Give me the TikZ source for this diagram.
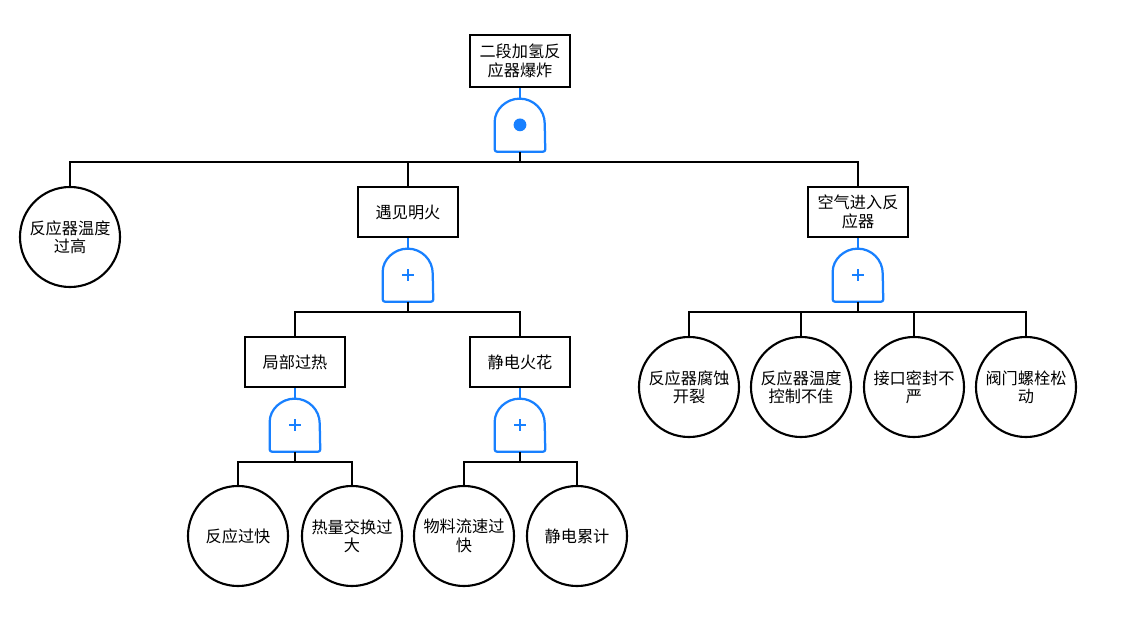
\documentclass[tikz,border=0pt]{standalone}
\usepackage{fontspec}
\newfontfamily\cjk{Noto Sans CJK SC}
\usepackage{tikz}
\usetikzlibrary{
  calc,
  positioning
}
\definecolor{gateblue}{RGB}{24,128,255}
\newcommand\gatebody[1]{%
  \draw[gatewire,line join=round,rounded corners=1.5pt] (#1.south west) -- ++(0,0.7cm)
    [sharp corners] arc[start angle=180,end angle=0,radius=0.625cm]
    [rounded corners=1.5pt] -- (#1.south east) -- cycle;
}
\newcommand\andmark[1]{\fill[gateblue] (#1.center) circle[radius=0.16cm];}
\newcommand\ormark[1]{%
  \draw[gatewire] ([xshift=-0.15cm]#1.center) -- ([xshift=0.15cm]#1.center)
    ([yshift=-0.15cm]#1.center) -- ([yshift=0.15cm]#1.center);
}

\begin{document}
\begin{tikzpicture}[
  x=0.025cm,y=-0.025cm,
  event/.style={
    draw,
    line width=1.5pt,
    minimum width=2.5cm,
    minimum height=1.25cm,
    inner sep=2pt,
    align=center,
    font=\cjk\fontsize{11.5}{13}\selectfont
  },
  basic/.style={
    circle,
    draw,
    line width=1.5pt,
    minimum size=2.5cm,
    inner sep=0pt,
    align=center,
    font=\cjk\fontsize{11.5}{13}\selectfont
  },
  gate/.style={
    minimum width=1.25cm,
    minimum height=1.325cm,
    inner sep=0pt
  },
  wire/.style={line width=1.5pt},
  gatewire/.style={line width=1.6pt,draw=gateblue}
]
\useasboundingbox (0,0) rectangle (1121,625);

  % top event
  \node[event,minimum height=1.3cm] (top) at (520,61) {二段加氢反\\应器爆炸};
  \node[gate,below=0.25cm of top] (g0) {};
  \gatebody{g0}
  \andmark{g0}

  \node[basic] (e1) at (70,237) {反应器温度\\过高};
  \node[event] (e2) at (408,212) {遇见明火};
  \node[event] (e3) at (858,212) {空气进入反\\应器};

  % fire branch
  \node[gate,below=0.25cm of e2] (g2) {};
  \gatebody{g2}
  \ormark{g2}

  \node[event] (e21) at (295,362) {局部过热};
  \node[event] (e22) at (520,362) {静电火花};

  \node[gate,below=0.25cm of e21] (g21) {};
  \gatebody{g21}
  \ormark{g21}
  \node[gate,below=0.25cm of e22] (g22) {};
  \gatebody{g22}
  \ormark{g22}

  \node[basic] (b1) at (238,536) {反应过快};
  \node[basic] (b2) at (352,536) {热量交换过\\大};
  \node[basic] (b3) at (464,536) {物料流速过\\快};
  \node[basic] (b4) at (577,536) {静电累计};

  % air branch
  \node[gate,below=0.25cm of e3] (g3) {};
  \gatebody{g3}
  \ormark{g3}

  \node[basic] (b5) at (689,387) {反应器腐蚀\\开裂};
  \node[basic] (b6) at (801,387) {反应器温度\\控制不佳};
  \node[basic] (b7) at (914,387) {接口密封不\\严};
  \node[basic] (b8) at (1026,387) {阀门螺栓松\\动};

  % connectors
  \draw[gatewire] (top.south) -- (g0.north);
  \draw[gatewire] (e2.south) -- (g2.north);
  \draw[gatewire] (e3.south) -- (g3.north);
  \draw[gatewire] (e21.south) -- (g21.north);
  \draw[gatewire] (e22.south) -- (g22.north);

  \coordinate (bus0) at ($(g0.south)+(0,10)$);
  \draw[wire] (g0.south) -- (bus0) -| (e1.north);
  \draw[wire] (bus0) -| (e2.north);
  \draw[wire] (bus0) -| (e3.north);

  \coordinate (bus2) at ($(g2.south)+(0,10)$);
  \draw[wire] (g2.south) -- (bus2) -| (e21.north);
  \draw[wire] (bus2) -| (e22.north);

  \coordinate (bus21) at ($(g21.south)+(0,10)$);
  \draw[wire] (g21.south) -- (bus21) -| (b1.north);
  \draw[wire] (bus21) -| (b2.north);

  \coordinate (bus22) at ($(g22.south)+(0,10)$);
  \draw[wire] (g22.south) -- (bus22) -| (b3.north);
  \draw[wire] (bus22) -| (b4.north);

  \coordinate (bus3) at ($(g3.south)+(0,10)$);
  \draw[wire] (g3.south) -- (bus3) -| (b5.north);
  \draw[wire] (bus3) -| (b6.north);
  \draw[wire] (bus3) -| (b7.north);
  \draw[wire] (bus3) -| (b8.north);

\end{tikzpicture}
\end{document}
